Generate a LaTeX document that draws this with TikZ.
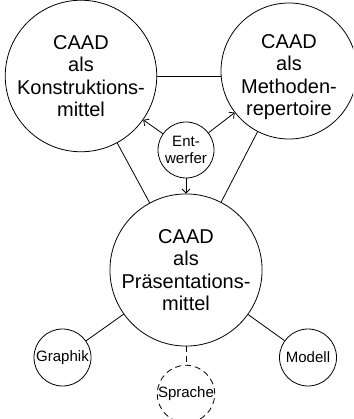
\documentclass[tikz,border=0pt]{standalone}
\usepackage{fontspec}
\setmainfont{Liberation Sans}
\usetikzlibrary{arrows.meta}
\begin{document}
\begin{tikzpicture}[x=1pt,y=1pt,
  bigc/.style={circle,draw,line width=0.8pt,minimum size=142pt,inner sep=0pt,align=center,font=\fontsize{20}{22.5}\selectfont},
  bigt/.style={inner sep=0pt,align=center,font=\fontsize{20}{22.5}\selectfont},
  smallc/.style={circle,draw,line width=0.8pt,minimum size=57pt,inner sep=0pt,align=center,font=\fontsize{15}{17}\selectfont},
  conn/.style={line width=0.8pt},
  arr/.style={conn,-{Straight Barb[length=4pt,width=8pt]}}]
\useasboundingbox (0,0) rectangle (353,-419);
\clip (0,0) rectangle (353,-419);
\node[bigc] (K) at (81,-76) {CAAD\\als\\Konstruktions-\\mittel};
\node[bigc,minimum size=136pt] (M) at (289,-71) {};
\node[bigt] (Mt) at (289,-77) {CAAD\\als\\Methoden-\\repertoire};
\node[bigc] (P) at (186,-270) {CAAD\\als\\Präsentations-\\mittel};
\node[smallc,minimum size=56pt] (E) at (186,-150) {Ent-\\werfer};
\node[smallc] (G) at (62.5,-357.5) {Graphik};
\node[smallc] (Mo) at (308,-357.5) {Modell};
\node[smallc,dashed,dash pattern=on 6pt off 4pt] (S) at (186,-394) {Sprache};
\draw[conn] (K.east) -- (K.east -| M.west);
\draw[conn] (K) -- (P);
\draw[conn] (M) -- (P);
\draw[arr] (E) -- (K);
\draw[arr] (E) -- (M);
\draw[arr] (E) -- (P);
\draw[conn] (P) -- (G);
\draw[conn] (P) -- (Mo);
\draw[conn,dash pattern=on 6pt off 4pt] (P) -- (S);
\end{tikzpicture}
\end{document}
